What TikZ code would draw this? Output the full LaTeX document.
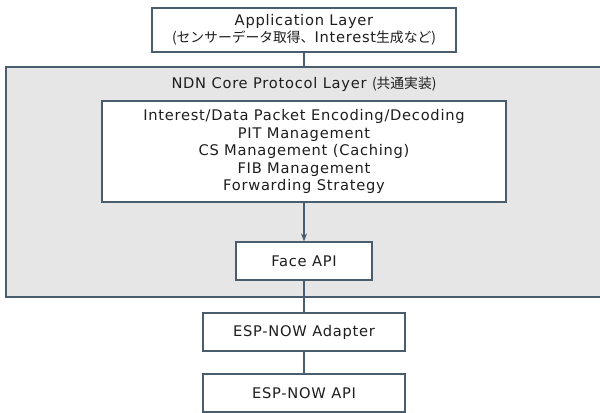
\documentclass[tikz,border=0pt]{standalone}
\usepackage{fontspec}
\setmainfont[LetterSpace=5]{DejaVu Sans}
\newfontfamily\jpfont[Scale=0.94]{Noto Sans CJK JP}
\usetikzlibrary{arrows.meta}

\definecolor{edgeblue}{HTML}{4A5D6E}
\definecolor{layergray}{HTML}{E6E6E6}
\definecolor{txt}{HTML}{1E1E1E}

\begin{document}
\begin{tikzpicture}[
        x=0.75pt, y=-0.75pt,
        box/.style={draw=edgeblue, fill=white, line width=0.9pt, text=txt,
            align=center, inner sep=0pt, font=\fontsize{11}{13.1}\selectfont},
        link/.style={edgeblue, line width=0.9pt}
    ]
    \useasboundingbox (0,0) rectangle (600,413);
    % core protocol layer (background)
    \draw[draw=edgeblue, fill=layergray, line width=0.9pt] (6,67) rectangle (606,297);
    \node[text=txt, font=\fontsize{11}{13.1}\selectfont] (title) at (304,84)
        {NDN Core Protocol Layer {\jpfont (共通実装)}};

    \node[box, minimum width=304*0.75pt, minimum height=44*0.75pt] (app) at (304,30)
        {Application Layer\\{\jpfont (センサーデータ取得、}Interest{\jpfont 生成など)}};
    \node[box, minimum width=404*0.75pt, minimum height=101*0.75pt] (core) at (304,151.5)
        {Interest/Data Packet Encoding/Decoding\\PIT Management\\CS Management (Caching)\\FIB Management\\Forwarding Strategy};
    \node[box, minimum width=136*0.75pt, minimum height=38*0.75pt] (face) at (304,261)
        {Face API};
    \node[box, minimum width=202*0.75pt, minimum height=38*0.75pt] (adapter) at (304,332)
        {ESP-NOW Adapter};
    \node[box, minimum width=202*0.75pt, minimum height=38*0.75pt] (espapi) at (304,393)
        {ESP-NOW API};

    \draw[link] (app.south) -- (app.south |- 0,67);
    \draw[link, -{Stealth[length=6pt,width=4.5pt]}] (core) -- (face);
    \draw[link] (face) -- (adapter);
    \draw[link] (adapter) -- (espapi);
\end{tikzpicture}
\end{document}
